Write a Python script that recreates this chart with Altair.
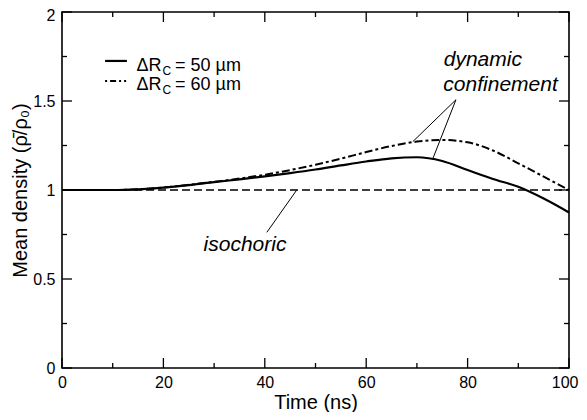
import altair as alt
import pandas as pd

# ---- data ----
time_ns = [0, 5, 10, 15, 20, 25, 30, 35, 40, 45, 50, 55, 60, 65, 70, 75, 80, 85, 90, 95, 100]
rho_50 = [1.0, 1.0, 1.0, 1.004, 1.013, 1.027, 1.044, 1.060, 1.077, 1.095, 1.115, 1.138,
          1.160, 1.178, 1.184, 1.163, 1.112, 1.062, 1.018, 0.952, 0.874]
rho_60 = [1.0, 1.0, 1.0, 1.004, 1.014, 1.029, 1.046, 1.064, 1.086, 1.112, 1.142, 1.176,
          1.213, 1.247, 1.272, 1.281, 1.268, 1.222, 1.150, 1.075, 1.0]
iso_t = [0, 100]
iso_v = [1.0, 1.0]

x_major = [0, 20, 40, 60, 80, 100]
x_minor = [10, 30, 50, 70, 90]
y_major = [0, 0.5, 1, 1.5, 2]
y_minor = [0.25, 0.75, 1.25, 1.75]

legend_main = ["ΔR", "ΔR"]
legend_sub = ["C", "C"]
legend_vals = ["= 50 µm", "= 60 µm"]
legend_line_v = [1.725, 1.612]
legend_text_v = [1.669, 1.562]
legend_sub_v = [1.648, 1.541]

notes = ["dynamic", "confinement", "isochoric"]
notes_t = [83.0, 86.5, 36.1]
notes_v = [1.697, 1.555, 0.655]

ptr_t = [77.7, 77.7, 46.3]
ptr_v = [1.507, 1.507, 1.0]
ptr_t2 = [69.2, 73.2, 40.4]
ptr_v2 = [1.272, 1.180, 0.762]

# ---- layout ----
W, H = 507, 356
FONT = "Liberation Sans"
xs = alt.Scale(domain=[0, 100], nice=False)
ys = alt.Scale(domain=[0, 2], nice=False)

x_axis = alt.Axis(values=x_major, format="d", ticks=False, domain=False, grid=False,
                  labelFontSize=16, labelFont=FONT, labelColor="black", labelPadding=6,
                  labelFlush=False,
                  labelAlign={"condition": {"test": "datum.value == 100", "value": "right"},
                              "value": "center"},
                  labelOffset={"condition": {"test": "datum.value == 100", "value": 9},
                               "value": 0},
                  title="Time (ns)", titleFont=FONT, titleFontSize=20, titleFontWeight="normal",
                  titleColor="black", titleBaseline="alphabetic", titleX=W / 2, titleY=40)
y_axis = alt.Axis(values=y_major, format="~g", ticks=False, domain=False, grid=False,
                  labelFontSize=16, labelFont=FONT, labelColor="black", labelPadding=7,
                  labelOffset={"condition": {"test": "datum.value == 2", "value": 3},
                               "value": 0},
                  title="Mean density (ρ̄/ρ₀)", titleFont=FONT, titleFontSize=20,
                  titleFontWeight="normal", titleColor="black", titleBaseline="alphabetic",
                  titleAngle=270, titleX=-36, titleY=H / 2)

def X(field):
    return alt.X(field, scale=xs, axis=x_axis)

def Y(field):
    return alt.Y(field, scale=ys, axis=y_axis)

df50 = pd.DataFrame({"t": time_ns, "v": rho_50})
df60 = pd.DataFrame({"t": time_ns, "v": rho_60})
dfiso = pd.DataFrame({"t": iso_t, "v": iso_v})

line50 = alt.Chart(df50).mark_line(color="black", strokeWidth=2.2, interpolate="monotone").encode(
    x=X("t:Q"), y=Y("v:Q"))
line60 = alt.Chart(df60).mark_line(color="black", strokeWidth=2.0, strokeDash=[8, 3, 3, 3],
                                   interpolate="monotone").encode(x=X("t:Q"), y=Y("v:Q"))
lineiso = alt.Chart(dfiso).mark_line(color="black", strokeWidth=1.6, strokeDash=[8, 4]).encode(
    x=X("t:Q"), y=Y("v:Q"))

# inward ticks on all four sides
def xticks(vals, length):
    d = pd.DataFrame({"t": vals})
    bot = alt.Chart(d).mark_rule(color="black", strokeWidth=1.3).encode(
        x=X("t:Q"), y=alt.value(H), y2=alt.value(H - length))
    top = alt.Chart(d).mark_rule(color="black", strokeWidth=1.3).encode(
        x=X("t:Q"), y=alt.value(0), y2=alt.value(length))
    return [bot, top]

def yticks(vals, length):
    d = pd.DataFrame({"v": vals})
    left = alt.Chart(d).mark_rule(color="black", strokeWidth=1.3).encode(
        y=Y("v:Q"), x=alt.value(0), x2=alt.value(length))
    right = alt.Chart(d).mark_rule(color="black", strokeWidth=1.3).encode(
        y=Y("v:Q"), x=alt.value(W), x2=alt.value(W - length))
    return [left, right]

ticks = xticks(x_major, 10) + xticks(x_minor, 5) + yticks(y_major, 10) + yticks(y_minor, 5)

# pointers and annotations
ptr = alt.Chart(pd.DataFrame({"t": ptr_t, "v": ptr_v, "t2": ptr_t2, "v2": ptr_v2})).mark_rule(
    color="black", strokeWidth=1).encode(x=X("t:Q"), y=Y("v:Q"), x2="t2:Q", y2="v2:Q")
ann = alt.Chart(pd.DataFrame({"t": notes_t, "v": notes_v, "s": notes})).mark_text(
    font=FONT, fontSize=21, fontStyle="italic", align="center", baseline="alphabetic",
    color="black").encode(x=X("t:Q"), y=Y("v:Q"), text="s:N")

# legend
leg1 = alt.Chart(pd.DataFrame({"a": [8.5], "b": [12.8], "v": [legend_line_v[0]]})).mark_rule(
    color="black", strokeWidth=2.2).encode(x=X("a:Q"), x2="b:Q", y=Y("v:Q"))
leg2 = alt.Chart(pd.DataFrame({"a": [8.5], "b": [12.8], "v": [legend_line_v[1]]})).mark_rule(
    color="black", strokeWidth=2.0, strokeDash=[2, 3, 6, 3, 2, 3, 2, 3]).encode(
    x=X("a:Q"), x2="b:Q", y=Y("v:Q"))

txt_main = pd.DataFrame({"t": [14.7, 14.7, 22.3, 22.3],
                         "v": legend_text_v + legend_text_v,
                         "s": legend_main + legend_vals})
txt_sub = pd.DataFrame({"t": [19.8, 19.8], "v": legend_sub_v, "s": legend_sub})
legt = alt.Chart(txt_main).mark_text(font=FONT, fontSize=18, align="left", baseline="alphabetic",
                                     color="black").encode(x=X("t:Q"), y=Y("v:Q"), text="s:N")
legs = alt.Chart(txt_sub).mark_text(font=FONT, fontSize=12, align="left", baseline="alphabetic",
                                    color="black").encode(x=X("t:Q"), y=Y("v:Q"), text="s:N")

chart = alt.layer(line50, line60, lineiso, *ticks, ptr, ann, leg1, leg2, legt, legs).properties(
    width=W, height=H,
    autosize=alt.AutoSizeParams(type="none"),
    padding={"left": 54, "top": 4, "right": 10, "bottom": 44},
).configure_view(stroke="black", strokeWidth=1.6)

chart.save("out.html", embed_options={"renderer": "svg", "actions": False})
